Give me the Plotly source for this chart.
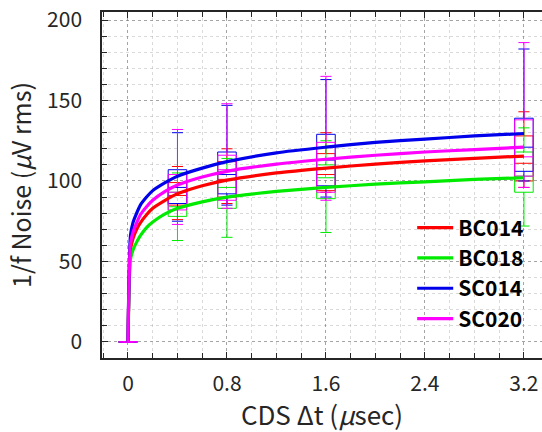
import plotly.graph_objects as go

# Series names and colours
series = ["BC014", "BC018", "SC014", "SC020"]
colors = {"BC014": "rgb(255,0,0)", "BC018": "rgb(0,235,0)",
          "SC014": "rgb(0,0,235)", "SC020": "rgb(255,0,255)"}

# Fitted noise curves (CDS delta t in usec -> 1/f noise in uV rms)
fit_t = [0, 0.02, 0.04, 0.07, 0.1, 0.15, 0.2, 0.3, 0.4, 0.6, 0.8,
         1.2, 1.6, 2.0, 2.4, 2.8, 3.2]
fit_bc014 = [0, 57, 64, 70, 74, 79, 83, 88, 92, 97, 100.5,
             105, 108, 110.5, 112.5, 114, 115.5]
fit_bc018 = [0, 51, 57, 62, 66, 71, 74.5, 79.5, 83, 87, 90,
             93.5, 96, 98, 99.5, 101, 102]
fit_sc014 = [0, 66, 74, 80, 85, 90, 94, 99, 103, 108, 112,
             117.5, 121, 124, 126, 128, 129.5]
fit_sc020 = [0, 61, 68, 74, 79, 84, 88, 93.5, 97.5, 102.5, 106,
             110.5, 113.5, 116, 118, 119.5, 121]

# Measured distributions at each CDS delta t
box_t = [0, 0.4, 0.8, 1.6, 3.2]
q1 = {"BC014": [0, 85, 90, 94, 100], "BC018": [0, 78, 83, 89, 93],
      "SC014": [0, 86, 92, 97, 106], "SC020": [0, 82, 88, 93, 103]}
median = {"BC014": [0, 91, 101, 104, 111], "BC018": [0, 84, 96, 102, 103],
          "SC014": [0, 96, 104, 113, 121], "SC020": [0, 93, 107, 108, 115]}
q3 = {"BC014": [0, 99, 112, 117, 128], "BC018": [0, 93, 106, 110, 118],
      "SC014": [0, 107, 118, 129, 139], "SC020": [0, 104, 116, 124, 138]}
low = {"BC014": [0, 76, 86, 93, 96], "BC018": [0, 63, 65, 68, 72],
       "SC014": [0, 75, 85, 90, 100], "SC020": [0, 73, 83, 88, 96]}
high = {"BC014": [0, 109, 120, 130, 143], "BC018": [0, 105, 114, 125, 133],
        "SC014": [0, 130, 147, 163, 182], "SC020": [0, 132, 148, 165, 186]}

fits = {"BC014": fit_bc014, "BC018": fit_bc018,
        "SC014": fit_sc014, "SC020": fit_sc020}

fig = go.Figure()

for s in series:
    fig.add_trace(go.Box(
        x=box_t, q1=q1[s], median=median[s], q3=q3[s],
        lowerfence=low[s], upperfence=high[s],
        width=0.15, whiskerwidth=0.6, boxpoints=False,
        line=dict(color=colors[s], width=1),
        fillcolor="rgba(0,0,0,0)", showlegend=False, hoverinfo="skip",
    ))

for s in series:
    fig.add_trace(go.Scatter(
        x=fit_t, y=fits[s], mode="lines", name=s,
        line=dict(color=colors[s], width=3.2, shape="spline", smoothing=0.6),
    ))

font_family = "Noto Sans CJK JP, Noto Sans, sans-serif"
text_color = "#262626"
grid_major = "rgba(120,120,120,0.55)"
grid_minor = "rgba(150,150,150,0.35)"

fig.update_layout(
    width=542, height=432,
    margin=dict(l=102, r=0, t=12, b=74),
    paper_bgcolor="white", plot_bgcolor="white",
    boxmode="overlay",
    font=dict(family=font_family, color=text_color, size=21),
    showlegend=True,
    legend=dict(
        x=0.705, y=0.435, xanchor="left", yanchor="top",
        bgcolor="rgba(0,0,0,0)", borderwidth=0,
        font=dict(family=font_family, size=21, color="black", weight="bold"),
        itemwidth=36, tracegroupgap=0,
    ),
)

fig.update_xaxes(
    range=[-0.21, 3.346], tickmode="array",
    tickvals=[0, 0.8, 1.6, 2.4, 3.2], ticktext=["0", "0.8", "1.6", "2.4", "3.2"],
    ticks="inside", ticklen=6, tickcolor=text_color, tickwidth=1,
    showline=True, linecolor=text_color, linewidth=1.5, mirror="ticks",
    showgrid=True, gridcolor=grid_major, griddash="dot", gridwidth=1,
    zeroline=False, ticklabelstandoff=6,
    tickfont=dict(size=21, color=text_color),
    minor=dict(dtick=0.2, tick0=0, ticks="inside", ticklen=5,
               tickcolor=text_color, showgrid=True, gridcolor=grid_minor,
               griddash="dot", gridwidth=1),
    title=dict(text="CDS Δt (<i>μ</i>sec)", font=dict(size=26, color=text_color),
               standoff=0),
)

fig.update_yaxes(
    range=[-10, 205], tickmode="array",
    tickvals=[0, 50, 100, 150, 200],
    ticks="inside", ticklen=6, tickcolor=text_color, tickwidth=1,
    showline=True, linecolor=text_color, linewidth=1.5, mirror=False,
    showgrid=True, gridcolor=grid_major, griddash="dot", gridwidth=1,
    zeroline=False, ticklabelstandoff=14,
    tickfont=dict(size=21, color=text_color),
    minor=dict(dtick=10, tick0=0, ticks="inside", ticklen=5,
               tickcolor=text_color, showgrid=True, gridcolor=grid_minor,
               griddash="dot", gridwidth=1),
    title=dict(text="1/f Noise (<i>μ</i>V rms)", font=dict(size=25, color=text_color),
               standoff=8),
)

fig.write_html("out.html")
